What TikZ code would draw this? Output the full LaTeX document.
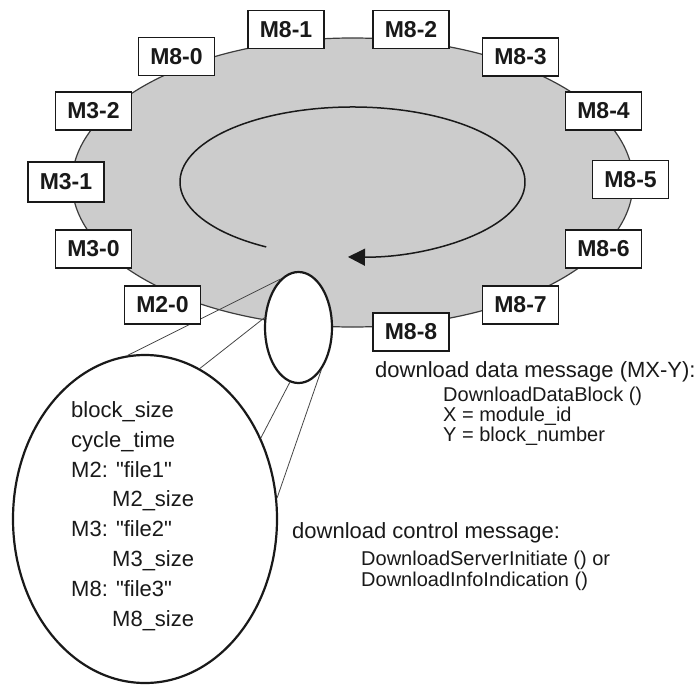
\documentclass[tikz,border=0pt]{standalone}
\usepackage{fontspec}
\setmainfont{Liberation Sans}
\newfontfamily\plainfont{Liberation Sans}
\usetikzlibrary{shapes.geometric,arrows.meta}
\definecolor{ringfill}{RGB}{204,204,204}
\definecolor{ringline}{RGB}{60,60,60}
\definecolor{ink}{RGB}{25,25,25}
\definecolor{thinline}{RGB}{70,70,70}
\begin{document}
\begin{tikzpicture}[x=1bp,y=1bp,
  mbox/.style={draw=ink, line width=1.8bp, fill=white, minimum width=76bp,
    minimum height=38bp, inner sep=0pt, text=ink,
    font=\plainfont\fontsize{23bp}{25bp}\selectfont\bfseries},
  bigtxt/.style={anchor=base west, inner sep=0pt, text=ink,
    font=\plainfont\fontsize{22bp}{26bp}\selectfont},
  subtxt/.style={anchor=base west, inner sep=0pt, text=ink,
    font=\plainfont\fontsize{20bp}{22bp}\selectfont},
  zoomell/.style={ellipse, draw=ink, line width=2.2bp, fill=white, inner sep=0pt},
  zoomline/.style={draw=thinline, line width=0.8bp}]
\useasboundingbox (0,0) rectangle (700,-685);

% carousel
\node[ellipse, draw=ringline, line width=1.2bp, fill=ringfill, inner sep=0pt,
  minimum width=561bp, minimum height=289bp] (ring) at (352.5,-182.5) {};
\draw[ink, line width=1.5bp, -{Triangle[length=17bp,width=17bp]}]
  ([shift={(240:172.5bp and 75bp)}]352.5,-182) coordinate (loopstart)
  arc[start angle=240, end angle=-91.5, x radius=172.5bp, y radius=75bp];

% zoom ellipses
\node[zoomell, minimum width=67bp, minimum height=111bp] (src) at (298.5,-327.5) {};
\node[zoomell, minimum width=264bp, minimum height=328bp] (dst) at (145,-519) {};
\draw[zoomline] (src.110.5) -- (dst.96);
\draw[zoomline] (src.164) -- (dst.70);
\draw[zoomline] (src.261) -- (dst.35);
\draw[zoomline] (src.-62) -- (dst.9);

% module blocks
\node[mbox] (m81) at (286,-29.5) {M8-1};
\node[mbox] (m82) at (411,-29.5) {M8-2};
\node[mbox] (m80) at (176.5,-56.5) {M8-0};
\node[mbox] (m83) at (520.5,-57) {M8-3};
\node[mbox] (m32) at (93.5,-111) {M3-2};
\node[mbox] (m84) at (603.5,-111) {M8-4};
\node[mbox, minimum height=40bp] (m31) at (66,-182) {M3-1};
\node[mbox] (m85) at (630.5,-179.5) {M8-5};
\node[mbox] (m30) at (93.5,-249) {M3-0};
\node[mbox] (m86) at (603.5,-249) {M8-6};
\node[mbox] (m20) at (162.5,-305) {M2-0};
\node[mbox] (m87) at (520.5,-305) {M8-7};
\node[mbox] (m88) at (411,-332) {M8-8};

% contents of the zoomed ellipse
\node[bigtxt] (e1) at (71,-417) {block\_size};
\node[bigtxt] (e2) at (71,-447) {cycle\_time};
\node[bigtxt] (e3) at (71,-477) {M2: "file1"};
\node[bigtxt] (e4) at (112,-506) {M2\_size};
\node[bigtxt] (e5) at (71,-536) {M3: "file2"};
\node[bigtxt] (e6) at (112,-566) {M3\_size};
\node[bigtxt] (e7) at (71,-596) {M8: "file3"};
\node[bigtxt] (e8) at (112,-626) {M8\_size};

% explanations
\node[bigtxt] (d0) at (375,-377) {download data message (MX-Y):};
\node[subtxt] (d1) at (443,-401.5) {DownloadDataBlock ()};
\node[subtxt] (d2) at (443,-421.5) {X = module\_id};
\node[subtxt] (d3) at (443,-441.5) {Y = block\_number};
\node[bigtxt] (c0) at (292,-538) {download control message:};
\node[subtxt] (c1) at (361,-565) {DownloadServerInitiate () or};
\node[subtxt] (c2) at (361,-586) {DownloadInfoIndication ()};
\end{tikzpicture}
\end{document}
